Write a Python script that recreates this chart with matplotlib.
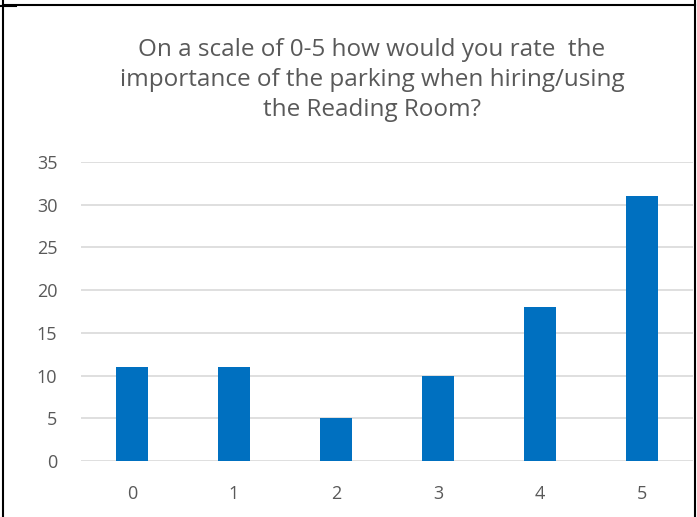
import matplotlib.pyplot as plt
from matplotlib.lines import Line2D

# Data
ratings = ["0", "1", "2", "3", "4", "5"]
counts = [11, 11, 5, 10, 18, 31]
y_ticks = [0, 5, 10, 15, 20, 25, 30, 35]

title = ("On a scale of 0-5 how would you rate  the\n"
         "importance of the parking when hiring/using\n"
         "the Reading Room?")

plt.rcParams["font.family"] = ["Open Sans", "DejaVu Sans"]
grey = "#595959"

W, H = 697, 517
fig = plt.figure(figsize=(W / 100, H / 100), dpi=100)
ax = fig.add_axes([81 / W, 1 - 461 / H, (693 - 81) / W, (461 - 162) / H])

x = range(len(ratings))
ax.bar(x, counts, width=0.31, color="#0070C0", zorder=3)

ax.set_xlim(-0.5, len(ratings) - 0.5)
ax.set_ylim(0, 35)
ax.set_yticks(y_ticks)
ax.set_xticks(list(x))
ax.set_xticklabels(ratings)
ax.yaxis.grid(True, color="#D9D9D9", linewidth=1.2, zorder=0)
ax.tick_params(axis="both", length=0, labelsize=13, colors=grey)
ax.tick_params(axis="x", pad=17)
ax.tick_params(axis="y", pad=17)
for s in ax.spines.values():
    s.set_visible(False)

fig.text(372 / W, 1 - 80 / H, title, ha="center", va="center",
         fontsize=17.5, color=grey, linespacing=1.36)

# black frame lines at the picture edges
def fline(x0, y0, x1, y1):
    fig.add_artist(Line2D([x0 / W, x1 / W], [1 - y0 / H, 1 - y1 / H],
                          color="black", linewidth=1.5, transform=fig.transFigure))

fline(3, 5, 695, 5)
fline(0, 6, 16, 6)
fline(3, 0, 3, H)
fline(695, 0, 695, H)

fig.savefig("out.png", dpi=100)
